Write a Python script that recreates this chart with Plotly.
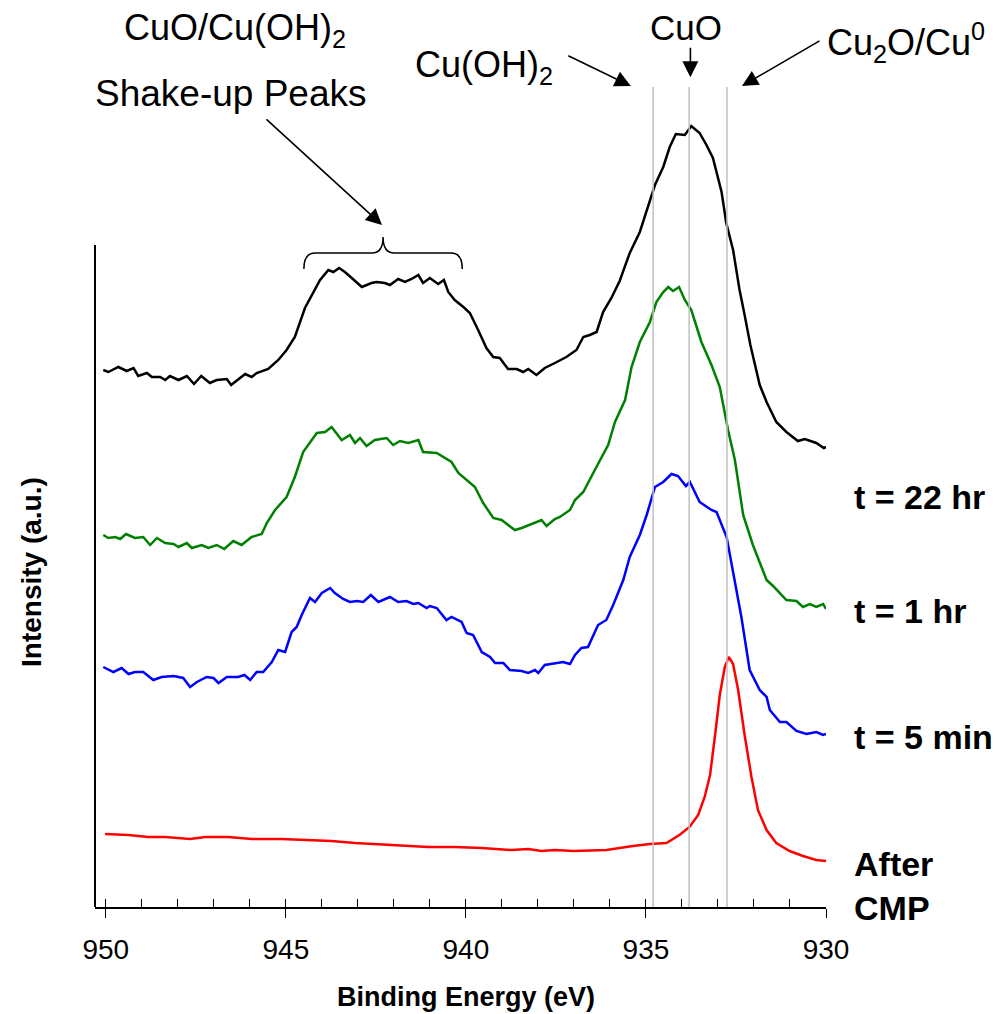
import plotly.graph_objects as go

FONT = "Liberation Sans, Arial, sans-serif"

# ---- data: binding energy (eV) and intensity (a.u.) ----
be_22hr = [950.07, 949.93, 949.65, 949.42, 949.23, 949.10, 948.86, 948.72, 948.49, 948.35, 948.22, 947.98,
           947.75, 947.55, 947.35, 947.11, 946.92, 946.64, 946.52, 946.13, 945.95, 945.81, 945.49, 945.21,
           944.98, 944.75, 944.47, 944.19, 944.05, 943.82, 943.68, 943.52, 943.36, 943.17, 942.89, 942.62,
           942.48, 942.25, 942.11, 941.88, 941.69, 941.51, 941.32, 941.19, 941.00, 940.77, 940.61, 940.49,
           940.31, 940.07, 939.89, 939.66, 939.43, 939.24, 939.06, 938.83, 938.59, 938.41, 938.27, 938.04,
           937.81, 937.53, 937.21, 936.93, 936.74, 936.56, 936.37, 936.19, 935.96, 935.73, 935.45, 935.17,
           934.98, 934.75, 934.52, 934.34, 934.17, 933.92, 933.74, 933.51, 933.32, 933.14, 932.90, 932.77,
           932.58, 932.40, 932.26, 932.10, 931.84, 931.65, 931.38, 931.10, 930.78, 930.59, 930.27, 930.06,
           930.00]
int_22hr = [537, 535, 540, 536, 539, 531, 534, 530, 530, 527, 531, 527,
            531, 523, 531, 524, 527, 528, 522, 533, 530, 534, 538, 547,
            557, 570, 599, 617, 627, 637, 635, 639, 635, 629, 620, 624,
            625, 624, 622, 628, 625, 628, 632, 624, 629, 623, 627, 615,
            607, 600, 594, 577, 559, 550, 549, 538, 538, 535, 538, 532,
            539, 544, 550, 557, 570, 572, 575, 595, 609, 626, 654, 675,
            697, 722, 740, 760, 773, 772, 781, 774, 762, 749, 715, 684,
            657, 617, 592, 562, 522, 505, 485, 475, 466, 468, 464, 459,
            460]

be_1hr = [950.07, 949.93, 949.74, 949.60, 949.44, 949.19, 948.96, 948.77, 948.58, 948.35, 948.12, 947.98,
          947.75, 947.61, 947.34, 947.15, 946.92, 946.71, 946.46, 946.23, 945.95, 945.67, 945.53, 945.30,
          944.98, 944.75, 944.52, 944.38, 944.14, 943.91, 943.73, 943.45, 943.22, 943.08, 942.94, 942.76,
          942.53, 942.20, 942.02, 941.83, 941.60, 941.32, 941.19, 940.81, 940.40, 940.21, 939.75, 939.52,
          939.24, 939.01, 938.64, 938.45, 937.90, 937.76, 937.53, 937.39, 937.11, 936.97, 936.74, 936.42,
          936.05, 935.86, 935.58, 935.40, 935.17, 934.89, 934.71, 934.52, 934.38, 934.25, 934.08, 933.92,
          933.74, 933.46, 933.18, 932.95, 932.72, 932.53, 932.30, 932.03, 931.65, 931.47, 931.10, 930.82,
          930.64, 930.45, 930.27, 930.08, 930.00]
int_1hr = [372, 369, 370, 368, 373, 369, 370, 362, 369, 364, 363, 360,
           364, 359, 362, 359, 362, 358, 366, 362, 370, 373, 384, 397,
           410, 430, 455, 462, 474, 475, 480, 467, 472, 464, 469, 461,
           467, 469, 462, 466, 464, 467, 455, 454, 445, 434, 420, 404,
           389, 387, 377, 379, 387, 381, 388, 390, 397, 407, 415, 437,
           462, 485, 507, 540, 565, 585, 605, 615, 620, 616, 620, 607,
           597, 565, 542, 520, 477, 447, 392, 362, 327, 321, 307, 306,
           300, 303, 300, 303, 298]

be_5min = [950.07, 949.79, 949.56, 949.37, 949.19, 948.96, 948.68, 948.45, 948.12, 947.85, 947.66, 947.47,
           947.20, 947.01, 946.87, 946.64, 946.32, 946.15, 945.99, 945.81, 945.63, 945.39, 945.21, 945.02,
           944.84, 944.70, 944.56, 944.33, 944.19, 944.00, 943.77, 943.64, 943.41, 943.22, 943.03, 942.85,
           942.64, 942.43, 942.11, 941.88, 941.65, 941.46, 941.32, 941.09, 941.00, 940.81, 940.54, 940.40,
           940.12, 939.98, 939.80, 939.56, 939.33, 939.19, 938.96, 938.78, 938.45, 938.27, 938.08, 937.99,
           937.81, 937.53, 937.30, 937.11, 936.97, 936.79, 936.61, 936.33, 936.10, 935.91, 935.63, 935.45,
           935.17, 934.98, 934.75, 934.52, 934.29, 934.11, 933.89, 933.78, 933.51, 933.18, 933.04, 932.76,
           932.53, 932.35, 932.12, 931.84, 931.65, 931.56, 931.28, 931.10, 930.82, 930.54, 930.27, 930.08,
           930.00]
int_5min = [240, 235, 239, 233, 235, 235, 227, 230, 231, 229, 220, 225,
            230, 229, 224, 230, 230, 232, 227, 235, 235, 245, 257, 255,
            275, 280, 292, 309, 305, 314, 319, 314, 308, 305, 306, 305,
            312, 305, 310, 305, 306, 303, 304, 299, 301, 299, 287, 290,
            285, 274, 272, 255, 250, 244, 244, 237, 236, 234, 237, 234,
            242, 244, 245, 243, 252, 259, 260, 282, 287, 302, 327, 350,
            372, 392, 420, 425, 433, 431, 421, 425, 405, 397, 395, 370,
            327, 290, 237, 217, 210, 197, 185, 185, 176, 173, 175, 172,
            173]

be_cmp = [950.02, 949.37, 948.82, 948.35, 947.66, 947.24, 946.60, 945.95, 945.12, 944.38, 943.73, 943.08,
          942.53, 941.78, 941.05, 940.31, 939.56, 938.73, 938.27, 937.90, 937.53, 937.02, 936.10, 935.36,
          934.89, 934.43, 934.07, 933.79, 933.55, 933.37, 933.22, 933.08, 932.95, 932.81, 932.70, 932.58,
          932.44, 932.26, 932.07, 931.89, 931.65, 931.38, 931.01, 930.64, 930.27, 930.00]
int_cmp = [73, 72, 70, 70, 68, 70, 70, 68, 68, 67, 66, 64,
           63, 61, 60, 60, 59, 57, 58, 56, 57, 56, 57, 61,
           63, 64, 72, 80, 92, 110, 132, 172, 212, 240, 250, 243,
           217, 172, 130, 97, 77, 64, 56, 51, 47, 46]

series_names = ["t = 22 hr", "t = 1 hr", "t = 5 min", "After<br>CMP"]
series_colors = ["#000000", "#008000", "#0000ff", "#ff0000"]

# reference binding energies (eV)
ref_lines_ev = [934.8, 933.8, 932.75]
ref_line_top = 820

x_range = [950.3, 930]
y_range = [0, 822]

# brace over shake-up region (eV, a.u.)
brace_left, brace_mid, brace_right = 944.5, 942.3, 940.1
brace_base, brace_bar, brace_tip = 638, 654, 670

fig = go.Figure()

rx, ry = [], []
for e in ref_lines_ev:
    rx += [e, e, None]
    ry += [0, ref_line_top, None]
fig.add_trace(go.Scatter(x=rx, y=ry, mode="lines", xaxis="x2", yaxis="y",
                         line=dict(color="#c0c0c0", width=1.5), hoverinfo="skip", showlegend=False))

for xs, ys, c in [(be_22hr, int_22hr, series_colors[0]), (be_1hr, int_1hr, series_colors[1]),
                  (be_5min, int_5min, series_colors[2]), (be_cmp, int_cmp, series_colors[3])]:
    fig.add_trace(go.Scatter(x=xs, y=ys, mode="lines", line=dict(color=c, width=2.5),
                             showlegend=False))

r = 0.31
path = (f"M {brace_left},{brace_base} Q {brace_left},{brace_bar} {brace_left - r},{brace_bar} "
        f"L {brace_mid + r},{brace_bar} Q {brace_mid},{brace_bar} {brace_mid},{brace_tip} "
        f"Q {brace_mid},{brace_bar} {brace_mid - r},{brace_bar} "
        f"L {brace_right + r},{brace_bar} Q {brace_right},{brace_bar} {brace_right},{brace_base}")

shapes = [
    dict(type="path", xref="x", yref="y", path=path, line=dict(color="black", width=1.5)),
    dict(type="line", xref="paper", yref="paper", x0=0, x1=0, y0=0, y1=0.8054,
         line=dict(color="black", width=2)),
]

ann = []
def label(text, x, y, size, bold=False, xanchor="center", angle=0):
    ann.append(dict(text=f"<b>{text}</b>" if bold else text, x=x, y=y, xref="paper", yref="paper",
                    showarrow=False, xanchor=xanchor, yanchor="middle", textangle=angle,
                    font=dict(family=FONT, size=size, color="black"), align="left"))

label("CuO/Cu(OH)<sub>2</sub>", 0.1915, 1.067, 36)
label("Shake-up Peaks", 0.186, 0.990, 37)
label("Cu(OH)<sub>2</sub>", 0.5317, 1.022, 36)
label("CuO", 0.808, 1.070, 35)
label("Cu<sub>2</sub>O/Cu<sup>0</sup>", 1.109, 1.052, 36)

for name, yp in zip(series_names, [0.4988, 0.3601, 0.2068, 0.0258]):
    label(name, 1.0356, yp, 34, bold=True, xanchor="left")

label("Binding Energy (eV)", 0.5075, -0.1095, 27, bold=True)
label("Intensity (a.u.)", -0.0876, 0.4075, 28, bold=True, angle=-90)

def arrow(x, y, ax, ay):
    ann.append(dict(text="", x=x, y=y, xref="paper", yref="paper", ax=ax, ay=ay,
                    showarrow=True, arrowhead=2, arrowsize=2.0, arrowwidth=1.6,
                    arrowcolor="black", standoff=0))

arrow(0.3926, 0.8297, -117, -107)
arrow(0.733, 0.9988, -64, -31)
arrow(0.8145, 1.0094, 0, -31)
arrow(0.8851, 0.9988, 79, -46)

fig.update_layout(
    width=1008, height=1014,
    margin=dict(l=95, r=182, t=85, b=107),
    plot_bgcolor="white", paper_bgcolor="white",
    showlegend=False,
    font=dict(family=FONT, color="black"),
    xaxis=dict(range=x_range, tickmode="linear", tick0=930, dtick=5, ticks="outside", ticklen=9,
               tickwidth=1.3, tickcolor="black", showline=True, linecolor="black", linewidth=1.5,
               showgrid=False, zeroline=False, ticklabelstandoff=8,
               tickfont=dict(family=FONT, size=28, color="black")),
    xaxis2=dict(range=x_range, overlaying="x", anchor="y", side="bottom", tickmode="linear",
                tick0=930, dtick=1, ticks="inside", ticklen=8, tickwidth=1.3, tickcolor="black",
                showticklabels=False, showline=False, showgrid=False, zeroline=False),
    yaxis=dict(range=y_range, showline=False, showticklabels=False, ticks="", showgrid=False,
               zeroline=False),
    shapes=shapes,
    annotations=ann,
)

fig.write_html("out.html")
